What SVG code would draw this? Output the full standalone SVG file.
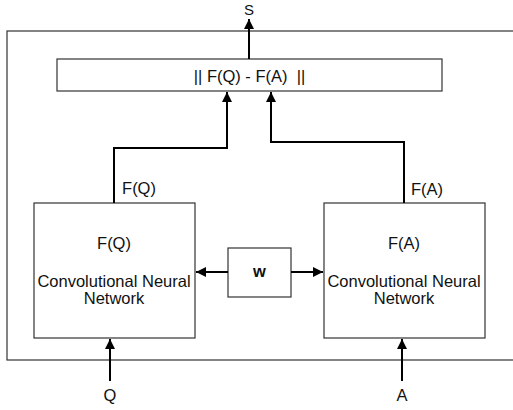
<svg xmlns="http://www.w3.org/2000/svg" width="513" height="410" viewBox="0 0 513 410">
<defs>
<marker id="ah" viewBox="0 0 10 10" refX="10" refY="5" markerWidth="5" markerHeight="5" orient="auto" markerUnits="strokeWidth">
<path d="M0,0 L10,5 L0,10 z" fill="#000"/>
</marker>
<style>
.box{fill:#fff;stroke:#333;stroke-width:1.2}
.t{font-family:"Liberation Sans",Arial,sans-serif;font-size:16.5px;fill:#111;text-anchor:middle}
.c{fill:none;stroke:#000;stroke-width:2;marker-end:url(#ah)}
</style>
</defs>
<rect x="0" y="0" width="513" height="410" fill="#fff"/>
<g id="outer"><rect class="box" x="7" y="31" width="520" height="329"/></g>
<g id="diff"><rect class="box" x="57" y="59" width="385" height="32"/><text class="t" x="249.5" y="82">|| F(Q) - F(A)&#160; ||</text></g>
<g id="cnnQ"><rect class="box" x="34" y="203" width="161" height="135"/><text class="t" x="114" y="249">F(Q)</text><text class="t" x="114" y="287">Convolutional Neural</text><text class="t" x="114" y="304">Network</text></g>
<g id="cnnA"><rect class="box" x="324" y="203" width="161" height="135"/><text class="t" x="404" y="249">F(A)</text><text class="t" x="404" y="287">Convolutional Neural</text><text class="t" x="404" y="304">Network</text></g>
<g id="w"><rect class="box" x="228" y="248" width="63" height="49"/><text class="t" x="259.5" y="277" font-weight="bold">w</text></g>
<g id="labels">
<text class="t" x="249" y="15" style="font-size:15px">S</text>
<text class="t" x="139" y="194">F(Q)</text>
<text class="t" x="427" y="195">F(A)</text>
<text class="t" x="110" y="401">Q</text>
<text class="t" x="402" y="401">A</text>
</g>
<g id="connectors">
<path class="c" d="M249,59 V19"/>
<path class="c" d="M114,203 V148 H227 V92"/>
<path class="c" d="M404,203 V142 H271 V92"/>
<path class="c" d="M228,272 H196"/>
<path class="c" d="M291,272 H323"/>
<path class="c" d="M110,381 V339"/>
<path class="c" d="M402,381 V339"/>
</g>
</svg>
